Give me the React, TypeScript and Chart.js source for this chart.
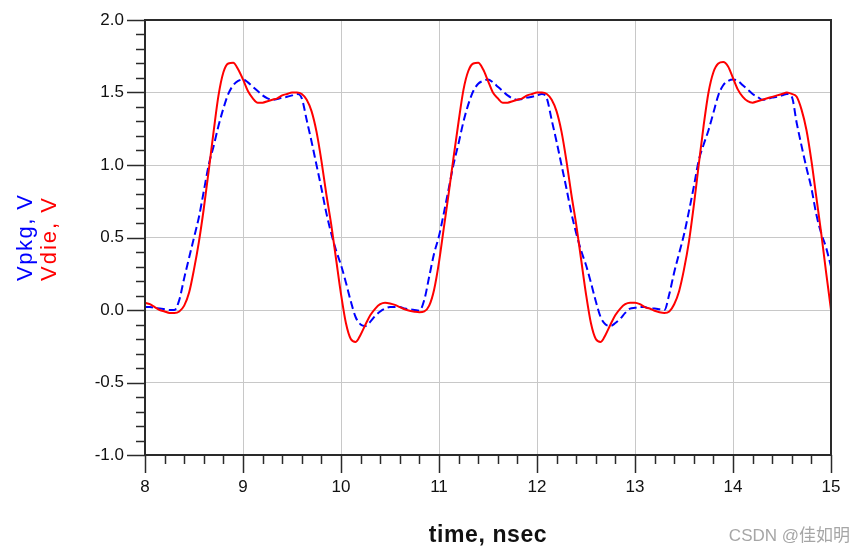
import React, { useEffect, useRef } from "react";
import { Chart, registerables } from "chart.js";

Chart.register(...registerables);

// Time samples (nsec)
const timeNs: number[] = [
  8.00, 8.05, 8.10, 8.15, 8.20, 8.25, 8.30, 8.35, 8.40, 8.45,
  8.50, 8.55, 8.60, 8.65, 8.70, 8.75, 8.80, 8.85, 8.90, 8.95,
  9.00, 9.05, 9.10, 9.15, 9.20, 9.25, 9.30, 9.35, 9.40, 9.45,
  9.50, 9.55, 9.60, 9.65, 9.70, 9.75, 9.80, 9.85, 9.90, 9.95,
  10.00, 10.05, 10.10, 10.15, 10.20, 10.25, 10.30, 10.35, 10.40, 10.45,
  10.50, 10.55, 10.60, 10.65, 10.70, 10.75, 10.80, 10.85, 10.90, 10.95,
  11.00, 11.05, 11.10, 11.15, 11.20, 11.25, 11.30, 11.35, 11.40, 11.45,
  11.50, 11.55, 11.60, 11.65, 11.70, 11.75, 11.80, 11.85, 11.90, 11.95,
  12.00, 12.05, 12.10, 12.15, 12.20, 12.25, 12.30, 12.35, 12.40, 12.45,
  12.50, 12.55, 12.60, 12.65, 12.70, 12.75, 12.80, 12.85, 12.90, 12.95,
  13.00, 13.05, 13.10, 13.15, 13.20, 13.25, 13.30, 13.35, 13.40, 13.45,
  13.50, 13.55, 13.60, 13.65, 13.70, 13.75, 13.80, 13.85, 13.90, 13.95,
  14.00, 14.05, 14.10, 14.15, 14.20, 14.25, 14.30, 14.35, 14.40, 14.45,
  14.50, 14.55, 14.60, 14.65, 14.70, 14.75, 14.80, 14.85, 14.90, 14.95,
  15.00,
];

// Vpkg (blue, dashed), volts
const vpkg: number[] = [
  0.02, 0.02, 0.015, 0.01, 0.005, 0.0, 0.0, 0.07, 0.22, 0.36,
  0.50, 0.64, 0.82, 1.00, 1.13, 1.27, 1.39, 1.49, 1.55, 1.58,
  1.59, 1.57, 1.54, 1.51, 1.48, 1.46, 1.45, 1.455, 1.465, 1.47,
  1.48, 1.49, 1.46, 1.31, 1.16, 1.00, 0.84, 0.67, 0.53, 0.41,
  0.31, 0.19, 0.06, -0.05, -0.10, -0.11, -0.08, -0.04, -0.01, 0.01,
  0.02, 0.02, 0.02, 0.01, 0.005, 0.0, -0.005, 0.07, 0.23, 0.39,
  0.51, 0.67, 0.84, 1.01, 1.15, 1.30, 1.42, 1.51, 1.56, 1.58,
  1.59, 1.57, 1.54, 1.51, 1.48, 1.46, 1.45, 1.455, 1.465, 1.47,
  1.48, 1.49, 1.46, 1.31, 1.16, 1.00, 0.84, 0.67, 0.53, 0.41,
  0.31, 0.19, 0.06, -0.05, -0.10, -0.11, -0.09, -0.06, -0.02, 0.01,
  0.015, 0.02, 0.02, 0.01, 0.01, 0.005, 0.0, 0.11, 0.26, 0.39,
  0.52, 0.68, 0.85, 1.03, 1.14, 1.24, 1.36, 1.48, 1.55, 1.58,
  1.59, 1.58, 1.55, 1.52, 1.49, 1.47, 1.45, 1.455, 1.465, 1.47,
  1.48, 1.49, 1.47, 1.29, 1.13, 0.98, 0.84, 0.66, 0.53, 0.43,
  0.30,
];

// Vdie (red, solid), volts
const vdie: number[] = [
  0.05, 0.04, 0.02, 0.0, -0.01, -0.02, -0.02, -0.01, 0.03, 0.12,
  0.28, 0.47, 0.70, 0.96, 1.23, 1.48, 1.64, 1.70, 1.705, 1.66,
  1.59, 1.51, 1.46, 1.43, 1.43, 1.44, 1.45, 1.46, 1.48, 1.49,
  1.50, 1.50, 1.49, 1.45, 1.37, 1.23, 1.03, 0.80, 0.59, 0.35,
  0.11, -0.09, -0.20, -0.22, -0.17, -0.10, -0.035, 0.01, 0.04, 0.05,
  0.045, 0.035, 0.02, 0.005, -0.005, -0.012, -0.016, -0.01, 0.03, 0.14,
  0.33, 0.57, 0.81, 1.06, 1.30, 1.52, 1.65, 1.70, 1.705, 1.66,
  1.58, 1.50, 1.46, 1.43, 1.43, 1.44, 1.45, 1.46, 1.48, 1.49,
  1.50, 1.50, 1.49, 1.45, 1.37, 1.23, 1.03, 0.80, 0.59, 0.35,
  0.11, -0.09, -0.20, -0.22, -0.17, -0.10, -0.035, 0.01, 0.04, 0.05,
  0.05, 0.04, 0.02, 0.01, -0.005, -0.015, -0.02, -0.01, 0.04, 0.13,
  0.28, 0.47, 0.72, 1.00, 1.27, 1.50, 1.64, 1.70, 1.71, 1.68,
  1.60, 1.52, 1.47, 1.44, 1.43, 1.44, 1.45, 1.46, 1.47, 1.48,
  1.49, 1.50, 1.49, 1.47, 1.38, 1.24, 1.03, 0.78, 0.53, 0.26,
  0.00,
];

const xMin = 8;
const xMax = 15;
const yMin = -1;
const yMax = 2;
const xMajorStep = 1;
const yMajorStep = 0.5;
const xMinorStep = 0.2;
const yMinorStep = 0.1;

const yTitleBlue = "Vpkg, V";
const yTitleRed = "Vdie, V";
const xTitle = "time, nsec";
const watermark = "CSDN @佳如明";

const FONT = '"Liberation Sans", Arial, sans-serif';

const framePlugin = {
  id: "frameAndTicks",
  afterDraw(chart: any) {
    const { ctx, chartArea } = chart;
    const xs = chart.scales.x;
    const ys = chart.scales.y;
    const { left, right, top, bottom } = chartArea;
    ctx.save();
    ctx.strokeStyle = "#2a2a2a";
    // frame
    ctx.lineWidth = 2;
    ctx.beginPath();
    ctx.moveTo(left, top);
    ctx.lineTo(right, top);
    ctx.lineTo(right, bottom);
    ctx.lineTo(left, bottom);
    ctx.closePath();
    ctx.stroke();
    // y ticks
    ctx.lineWidth = 1.5;
    const nY = Math.round((yMax - yMin) / yMinorStep);
    for (let i = 0; i <= nY; i++) {
      const v = yMin + i * yMinorStep;
      const major = i % Math.round(yMajorStep / yMinorStep) === 0;
      const py = Math.round(ys.getPixelForValue(v)) + 0.5;
      const len = major ? 18 : 9;
      ctx.beginPath();
      ctx.moveTo(left - len, py);
      ctx.lineTo(left, py);
      ctx.stroke();
    }
    const nX = Math.round((xMax - xMin) / xMinorStep);
    for (let i = 0; i <= nX; i++) {
      const v = xMin + i * xMinorStep;
      const major = i % Math.round(xMajorStep / xMinorStep) === 0;
      const px = Math.round(xs.getPixelForValue(v)) + 0.5;
      const len = major ? 18 : 9;
      ctx.beginPath();
      ctx.moveTo(px, bottom);
      ctx.lineTo(px, bottom + len);
      ctx.stroke();
    }
    // y titles (two colours)
    ctx.font = `22px ${FONT}`;
    ctx.textAlign = "left";
    ctx.textBaseline = "alphabetic";
    ctx.save();
    ctx.translate(32, 281);
    ctx.rotate(-Math.PI / 2);
    (ctx as any).letterSpacing = "1.5px";
    ctx.fillStyle = "#0000ff";
    ctx.fillText(yTitleBlue, 0, 0);
    ctx.restore();
    ctx.save();
    ctx.translate(56, 281);
    ctx.rotate(-Math.PI / 2);
    (ctx as any).letterSpacing = "2px";
    ctx.fillStyle = "#ff0000";
    ctx.fillText(yTitleRed, 0, 0);
    ctx.restore();
    // x title
    ctx.save();
    ctx.font = `bold 23px ${FONT}`;
    (ctx as any).letterSpacing = "0.6px";
    ctx.textAlign = "center";
    ctx.fillStyle = "#111";
    ctx.fillText(xTitle, (left + right) / 2, 542);
    ctx.restore();
    // watermark
    ctx.save();
    ctx.font = `17px "Liberation Sans", "Noto Sans CJK SC", sans-serif`;
    ctx.textAlign = "right";
    ctx.fillStyle = "#a6a6a6";
    ctx.fillText(watermark, 850, 541);
    ctx.restore();
    ctx.restore();
  },
};

export default function App() {
  const ref = useRef<HTMLCanvasElement | null>(null);
  useEffect(() => {
    if (!ref.current) return;
    const chart = new Chart(ref.current, {
      type: "line",
      data: {
        datasets: [
          {
            label: "Vdie",
            data: timeNs.map((t, i) => ({ x: t, y: vdie[i] })),
            borderColor: "#ff0000",
            borderWidth: 2,
            pointRadius: 0,
            fill: false,
            cubicInterpolationMode: "monotone",
            order: 0,
          },
          {
            label: "Vpkg",
            data: timeNs.map((t, i) => ({ x: t, y: vpkg[i] })),
            borderColor: "#0000ff",
            borderWidth: 2,
            borderDash: [8, 4],
            pointRadius: 0,
            fill: false,
            cubicInterpolationMode: "monotone",
            order: 1,
          },
        ],
      },
      options: {
        responsive: false,
        animation: false,
        devicePixelRatio: 1,
        layout: { padding: { left: 0, top: 20, right: 34, bottom: 0 } },
        plugins: {
          legend: { display: false },
          tooltip: { enabled: false },
        },
        scales: {
          x: {
            type: "linear",
            min: xMin,
            max: xMax,
            afterFit: (s: any) => {
              s.height = 101;
            },
            ticks: {
              stepSize: xMajorStep,
              font: { family: FONT, size: 17 },
              color: "#111",
              padding: 22,
              maxRotation: 0,
            },
            grid: { color: "#c8c8c8", lineWidth: 1, drawTicks: false },
            border: { display: false },
          },
          y: {
            type: "linear",
            min: yMin,
            max: yMax,
            afterFit: (s: any) => {
              s.width = 145;
            },
            ticks: {
              stepSize: yMajorStep,
              font: { family: FONT, size: 17 },
              color: "#111",
              padding: 0,
              callback: (v: any) => Number(v).toFixed(1),
            },
            grid: {
              color: "#c8c8c8",
              lineWidth: 1,
              drawTicks: true,
              tickLength: 21,
              tickColor: "rgba(0,0,0,0)",
            },
            border: { display: false },
          },
        },
      },
      plugins: [framePlugin],
    });
    return () => chart.destroy();
  }, []);
  return (
    <canvas
      ref={ref}
      width={865}
      height={556}
      style={{ position: "absolute", left: 0, top: 0, width: 865, height: 556 }}
    />
  );
}
